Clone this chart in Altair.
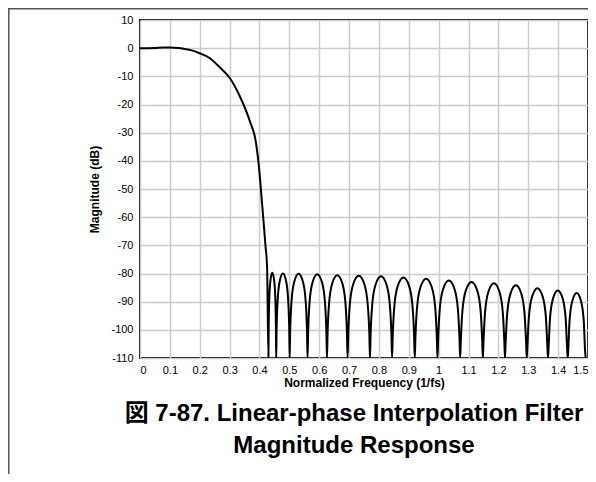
import altair as alt
import pandas as pd

# Passband + transition band
trans_freq = [0, 0.05, 0.08, 0.1, 0.13, 0.15, 0.17, 0.2, 0.233, 0.267, 0.3, 0.333,
              0.367, 0.389, 0.4, 0.407, 0.414, 0.42, 0.4256]
trans_db = [0, 0.1, 0.25, 0.25, 0.05, -0.3, -0.7, -1.8, -3.5, -6.8, -10.5, -16.8,
            -25.7, -34, -44, -53, -62, -70, -78]

# Stopband lobes (nulls clipped at -110 dB)
stop_freq = [
    0.430, 0.4308, 0.4326, 0.4365, 0.443, 0.4495, 0.4534, 0.4552,
    0.456, 0.4573, 0.4605, 0.4673, 0.4785, 0.4898, 0.4965, 0.4997,
    0.501, 0.5028, 0.507, 0.516, 0.531, 0.546, 0.555, 0.5592,
    0.561, 0.563, 0.5675, 0.5773, 0.5935, 0.6098, 0.6195, 0.624,
    0.626, 0.6281, 0.6329, 0.6433, 0.6605, 0.6778, 0.6881, 0.6929,
    0.695, 0.6973, 0.7025, 0.7138, 0.7325, 0.7513, 0.7625, 0.7678,
    0.770, 0.7722, 0.7774, 0.7885, 0.807, 0.8255, 0.8366, 0.8418,
    0.844, 0.8463, 0.8516, 0.863, 0.882, 0.901, 0.9124, 0.9177,
    0.920, 0.9223, 0.9276, 0.939, 0.958, 0.977, 0.9884, 0.9937,
    0.996, 0.9983, 1.0036, 1.015, 1.034, 1.053, 1.0644, 1.0697,
    1.072, 1.0743, 1.0796, 1.091, 1.110, 1.129, 1.1404, 1.1457,
    1.148, 1.1502, 1.1554, 1.1665, 1.185, 1.2035, 1.2146, 1.2198,
    1.222, 1.2242, 1.2293, 1.2403, 1.2585, 1.2768, 1.2877, 1.2928,
    1.295, 1.2971, 1.3021, 1.3128, 1.3305, 1.3483, 1.3589, 1.3639,
    1.366, 1.368, 1.3726, 1.3825, 1.399, 1.4155, 1.4254, 1.430,
    1.432, 1.4338, 1.438, 1.447, 1.462, 1.477, 1.486, 1.4902,
    1.492,
]
stop_db = [
    -110, -100.2, -89.9, -82.7, -79.7, -82.7, -89.9, -100.2,
    -110, -100.5, -90.2, -83.0, -80.0, -83.0, -90.2, -100.5,
    -110, -100.6, -90.3, -83.1, -80.1, -83.1, -90.3, -100.6,
    -110, -100.8, -90.5, -83.3, -80.3, -83.3, -90.5, -100.8,
    -110, -101.1, -90.8, -83.6, -80.6, -83.6, -90.8, -101.1,
    -110, -101.3, -91.0, -83.8, -80.8, -83.8, -91.0, -101.3,
    -110, -101.5, -91.2, -84.0, -81.0, -84.0, -91.2, -101.5,
    -110, -101.9, -91.6, -84.4, -81.4, -84.4, -91.6, -101.9,
    -110, -102.4, -92.1, -84.9, -81.9, -84.9, -92.1, -102.4,
    -110, -103.0, -92.7, -85.5, -82.5, -85.5, -92.7, -103.0,
    -110, -103.5, -93.2, -86.0, -83.0, -86.0, -93.2, -103.5,
    -110, -104.0, -93.7, -86.5, -83.5, -86.5, -93.7, -104.0,
    -110, -104.7, -94.4, -87.2, -84.2, -87.2, -94.4, -104.7,
    -110, -105.7, -95.4, -88.2, -85.2, -88.2, -95.4, -105.7,
    -110, -106.5, -96.2, -89.0, -86.0, -89.0, -96.2, -106.5,
    -110, -107.4, -97.1, -89.9, -86.9, -89.9, -97.1, -107.4,
    -110,
]

x_ticks = [0, 0.1, 0.2, 0.3, 0.4, 0.5, 0.6, 0.7, 0.8, 0.9, 1, 1.1, 1.2, 1.3, 1.4, 1.5]
y_ticks = [10, 0, -10, -20, -30, -40, -50, -60, -70, -80, -90, -100, -110]

title_line1 = "図 7-87. Linear-phase Interpolation Filter"
title_line2 = "Magnitude Response"

df = pd.DataFrame({"freq": trans_freq + stop_freq, "db": trans_db + stop_db})

FONT = "Liberation Sans, Arial, Noto Sans CJK JP"

line = alt.Chart(df).mark_line(
    color="black", strokeWidth=2, interpolate="monotone", clip=True
).encode(
    x=alt.X("freq:Q",
            scale=alt.Scale(domain=[0, 1.5], nice=False, zero=False),
            axis=alt.Axis(values=x_ticks, labelExpr="'' + datum.value",
                          title="Normalized Frequency (1/fs)",
                          labelPadding=6, titlePadding=2)),
    y=alt.Y("db:Q",
            scale=alt.Scale(domain=[-110, 10], nice=False, zero=False),
            axis=alt.Axis(values=y_ticks, labelExpr="'' + datum.value",
                          title="Magnitude (dB)",
                          labelPadding=7, titlePadding=9)),
)

one = pd.DataFrame({"k": [0]})
frame_left = alt.Chart(one).mark_rule(color="#555555", strokeWidth=1.5).encode(
    x=alt.value(-131.2), y=alt.value(-12), y2=alt.value(454)
)
frame_top = alt.Chart(one).mark_rule(color="#555555", strokeWidth=1.5).encode(
    x=alt.value(-132), x2=alt.value(448), y=alt.value(-11.2)
)

title1 = alt.Chart(pd.DataFrame({"t": [title_line1]})).mark_text(
    font=FONT, fontSize=24, fontWeight="bold", color="black",
    align="center", baseline="middle"
).encode(text="t:N", x=alt.value(214), y=alt.value(394))

title2 = alt.Chart(pd.DataFrame({"t": [title_line2]})).mark_text(
    font=FONT, fontSize=24, fontWeight="bold", color="black",
    align="center", baseline="middle"
).encode(text="t:N", x=alt.value(214), y=alt.value(426))

chart = alt.layer(line, frame_left, frame_top, title1, title2).properties(
    width=448,
    height=338,
    padding={"left": 132, "top": 12, "right": 0, "bottom": 116},
    autosize=alt.AutoSizeParams(type="none"),
).configure_view(
    stroke="black", strokeWidth=2
).configure_axis(
    grid=True, gridColor="#cccccc", gridWidth=1.5,
    ticks=False, domain=False,
    labelFont=FONT, labelFontSize=11, labelColor="black",
    titleFont=FONT, titleFontSize=12, titleFontWeight="bold", titleColor="black",
)

chart.save("out.html", embed_options={"renderer": "svg", "actions": False})
